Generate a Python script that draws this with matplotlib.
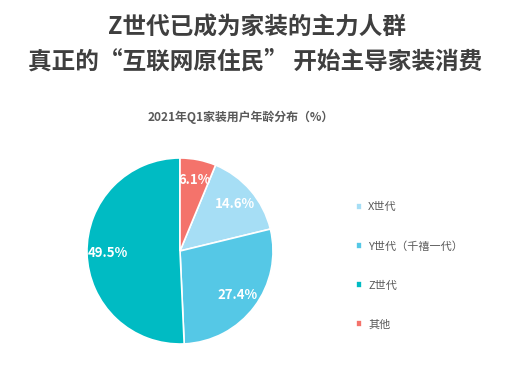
import matplotlib
matplotlib.use("Agg")
import matplotlib.pyplot as plt

plt.rcParams['font.family'] = ['Noto Sans CJK SC', 'DejaVu Sans']

# data
labels = ["X世代", "Y世代（千禧一代）", "Z世代", "其他"]
values = [14.6, 27.4, 49.5, 6.1]
colors = ["#A6DEF5", "#55C8E6", "#00BBC3", "#F4736B"]

title1 = "Z世代已成为家装的主力人群"
title2 = "真正的“互联网原住民” 开始主导家装消费"
subtitle = "2021年Q1家装用户年龄分布（%）"

fig = plt.figure(figsize=(5.2, 3.88), dpi=100)
fig.patch.set_facecolor("white")

fig.text(0.494, 0.930, title1, ha="center", va="center", fontsize=17,
         fontweight="bold", color="#3F3F3F")
fig.text(0.490, 0.840, title2, ha="center", va="center", fontsize=17,
         fontweight="bold", color="#3F3F3F")
fig.text(0.462, 0.698, subtitle, ha="center", va="center", fontsize=8.6,
         fontweight="bold", color="#595959")

# pie axes: centre ~ (180, 251) px, radius ~ 93 px
ax = fig.add_axes([0.1673, 0.1134, 0.3577, 0.4794])
total = sum(values)
start = 90 - values[-1] / total * 360
vals_iter = iter(values)
wedges, texts, autotexts = ax.pie(
    values, colors=colors, startangle=start, counterclock=False,
    autopct=lambda p: f"{next(vals_iter):.1f}%", pctdistance=0.78, radius=1,
    wedgeprops=dict(edgecolor="white", linewidth=1.2),
    textprops=dict(color="white", fontsize=9.5, fontweight="bold"))
ax.set_xlim(-1.0, 1.0)
ax.set_ylim(-1.0, 1.0)
ax.set_aspect("auto")
ax.axis("off")

leg = fig.legend(wedges, labels, loc="upper left", bbox_to_anchor=(0.665, 0.505),
                 frameon=False, fontsize=8, labelspacing=2.6,
                 handlelength=0.6, handleheight=0.6, handletextpad=0.5)
for t in leg.get_texts():
    t.set_color("#595959")

fig.savefig("out.png", dpi=100, facecolor="white")
